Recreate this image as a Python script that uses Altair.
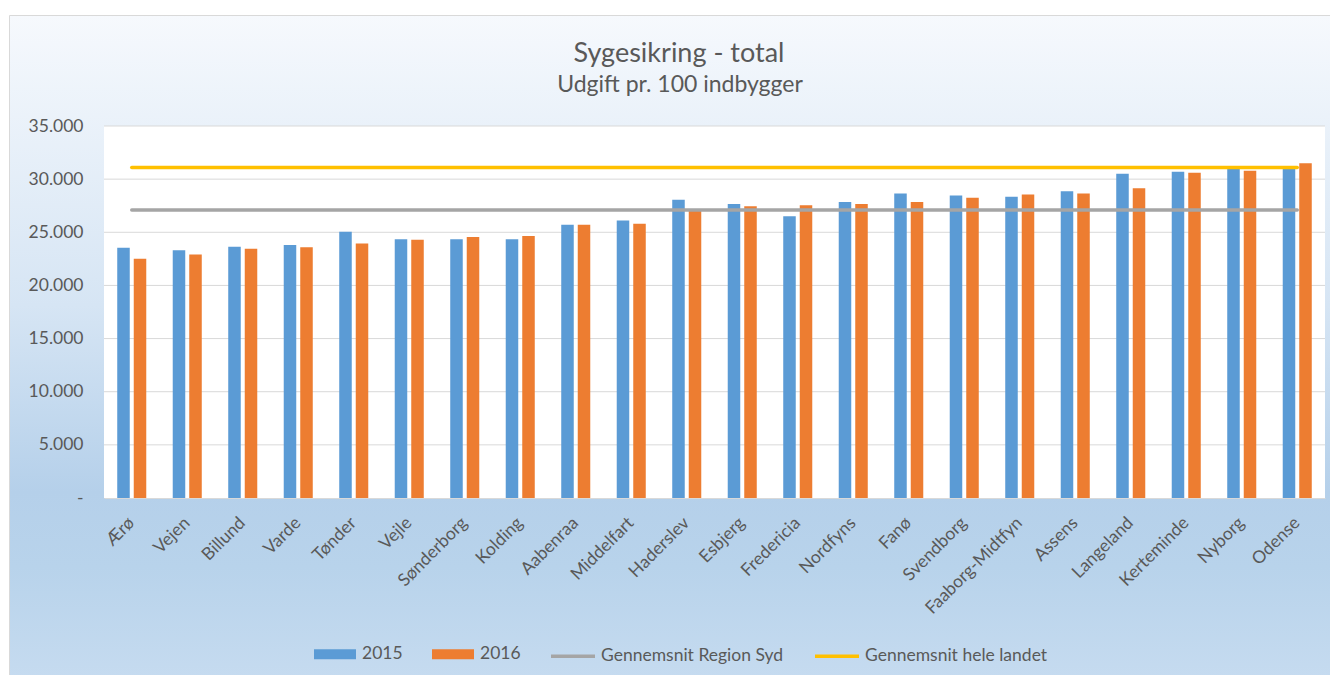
import altair as alt
import pandas as pd

# ---------------- data ----------------
kommuner = ["Ærø", "Vejen", "Billund", "Varde", "Tønder", "Vejle", "Sønderborg",
            "Kolding", "Aabenraa", "Middelfart", "Haderslev", "Esbjerg", "Fredericia",
            "Nordfyns", "Fanø", "Svendborg", "Faaborg-Midtfyn", "Assens", "Langeland",
            "Kerteminde", "Nyborg", "Odense"]
v2015 = [23550, 23300, 23650, 23800, 25050, 24350, 24350, 24350, 25700, 26100, 28050,
         27650, 26500, 27850, 28650, 28450, 28350, 28850, 30500, 30700, 30950, 30950]
v2016 = [22500, 22900, 23450, 23600, 23950, 24300, 24550, 24650, 25700, 25800, 27150,
         27450, 27550, 27650, 27850, 28250, 28550, 28650, 29150, 30600, 30800, 31500]
avg_region_syd = 27100
avg_hele_landet = 31100
years = ["2015", "2016"]
line_names = ["Gennemsnit Region Syd", "Gennemsnit hele landet"]
y_ticks = [0, 5000, 10000, 15000, 20000, 25000, 30000, 35000]
title_text = "Sygesikring - total"
subtitle_text = "Udgift pr. 100 indbygger"

n = len(kommuner)
bars_df = pd.DataFrame({
    "kommune": kommuner * 2,
    "aar": [years[0]] * n + [years[1]] * n,
    "udgift": v2015 + v2016,
})
lines_df = pd.DataFrame({
    "kommune": kommuner * 2,
    "serie": [line_names[0]] * n + [line_names[1]] * n,
    "udgift": [avg_region_syd] * n + [avg_hele_landet] * n,
})
grid_df = pd.DataFrame({"udgift": y_ticks[1:]})

# ---------------- style ----------------
W, H = 1221, 372
FONT = "Lato"
TXT = "#595959"
BLUE, ORANGE, GRAY, YELLOW = "#5B9BD5", "#ED7D31", "#A5A5A5", "#FFC000"

yscale = alt.Scale(domain=[0, 35000], nice=False)
yaxis = alt.Axis(title=None, values=y_ticks, grid=False, domain=False, ticks=False, zindex=1,
                 labelPadding=21, labelFont=FONT, labelFontSize=17.5, labelColor=TXT,
                 labelExpr="datum.value == 0 ? '-\u00a0\u00a0\u00a0' : replace(format(datum.value, ',d'), ',', '.')")
xscale = alt.Scale(domain=kommuner, paddingInner=0.477, paddingOuter=0.2385)
xaxis = alt.Axis(title=None, labelAngle=-45, labelAlign="right", labelBaseline="middle",
                 labelPadding=22, ticks=False, domainColor="#d9d9d9", domainWidth=1, zindex=1,
                 labelFont=FONT, labelFontSize=17.5, labelColor=TXT, labelLimit=0)
X = alt.X("kommune:N", sort=kommuner, scale=xscale, axis=xaxis)

gradient = alt.Gradient(
    gradient="linear", x1=0, y1=0, x2=0, y2=1,
    stops=[alt.GradientStop(offset=0, color="#f6f9fd"),
           alt.GradientStop(offset=0.42, color="#d6e5f4"),
           alt.GradientStop(offset=0.69, color="#b5d0ea"),
           alt.GradientStop(offset=0.80, color="#b8d3eb"),
           alt.GradientStop(offset=1, color="#c9ddf1")])

one = pd.DataFrame({"k": [0]})
background = alt.Chart(one).mark_rect(fill=gradient, stroke="#d9d9d9", strokeWidth=1).encode(
    x=alt.value(-94.5), x2=alt.value(1260), y=alt.value(-110.5), y2=alt.value(580))
plotbg = alt.Chart(one).mark_rect(fill="white").encode(
    x=alt.value(0), x2=alt.value(W), y=alt.value(0), y2=alt.value(H))

title = alt.Chart(one).mark_text(font=FONT, fontSize=27, color=TXT, align="center",
                                 baseline="alphabetic").encode(
    x=alt.value(575), y=alt.value(-64.5), text=alt.value(title_text))
subtitle = alt.Chart(one).mark_text(font=FONT, fontSize=23, color=TXT, align="center",
                                    baseline="alphabetic").encode(
    x=alt.value(576), y=alt.value(-34), text=alt.value(subtitle_text))

grid = alt.Chart(grid_df).mark_rule(color="#d9d9d9", strokeWidth=1).encode(
    y=alt.Y("udgift:Q", scale=yscale, axis=yaxis))

bars = alt.Chart(bars_df).mark_bar().encode(
    x=X,
    xOffset=alt.XOffset("aar:N", scale=alt.Scale(domain=years, paddingInner=0.242, paddingOuter=0)),
    y=alt.Y("udgift:Q", scale=yscale, axis=yaxis),
    color=alt.Color("aar:N", scale=alt.Scale(domain=years, range=[BLUE, ORANGE]),
                    legend=alt.Legend(title=None, orient="none", legendX=210, legendY=507,
                                      direction="horizontal",
                                      symbolType="M-1,-0.238H1V0.238H-1Z", symbolSize=1764,
                                      symbolStrokeWidth=0, labelOffset=6, columnPadding=29,
                                      labelLimit=0,
                                      labelFont=FONT, labelFontSize=17.5, labelColor=TXT)),
)

lines = alt.Chart(lines_df).mark_line(strokeWidth=3.5, strokeCap="round").encode(
    x=X,
    y=alt.Y("udgift:Q", scale=yscale, axis=yaxis),
    stroke=alt.Stroke("serie:N", scale=alt.Scale(domain=line_names, range=[GRAY, YELLOW]),
                      legend=alt.Legend(title=None, orient="none", legendX=445, legendY=506,
                                        direction="horizontal", symbolType="stroke",
                                        symbolSize=1936, symbolStrokeWidth=3.5,
                                        labelOffset=4, columnPadding=24, labelLimit=0,
                                        labelFont=FONT, labelFontSize=17.5, labelColor=TXT)),
)

chart = alt.layer(background, plotbg, title, subtitle, grid, bars, lines).properties(
    width=W, height=H,
    autosize="none",
    padding={"left": 96, "top": 118, "right": 5, "bottom": 177},
).resolve_legend(color="independent", stroke="independent").configure_view(stroke=None)

chart.save("out.html", embed_options={"renderer": "svg", "actions": False})
